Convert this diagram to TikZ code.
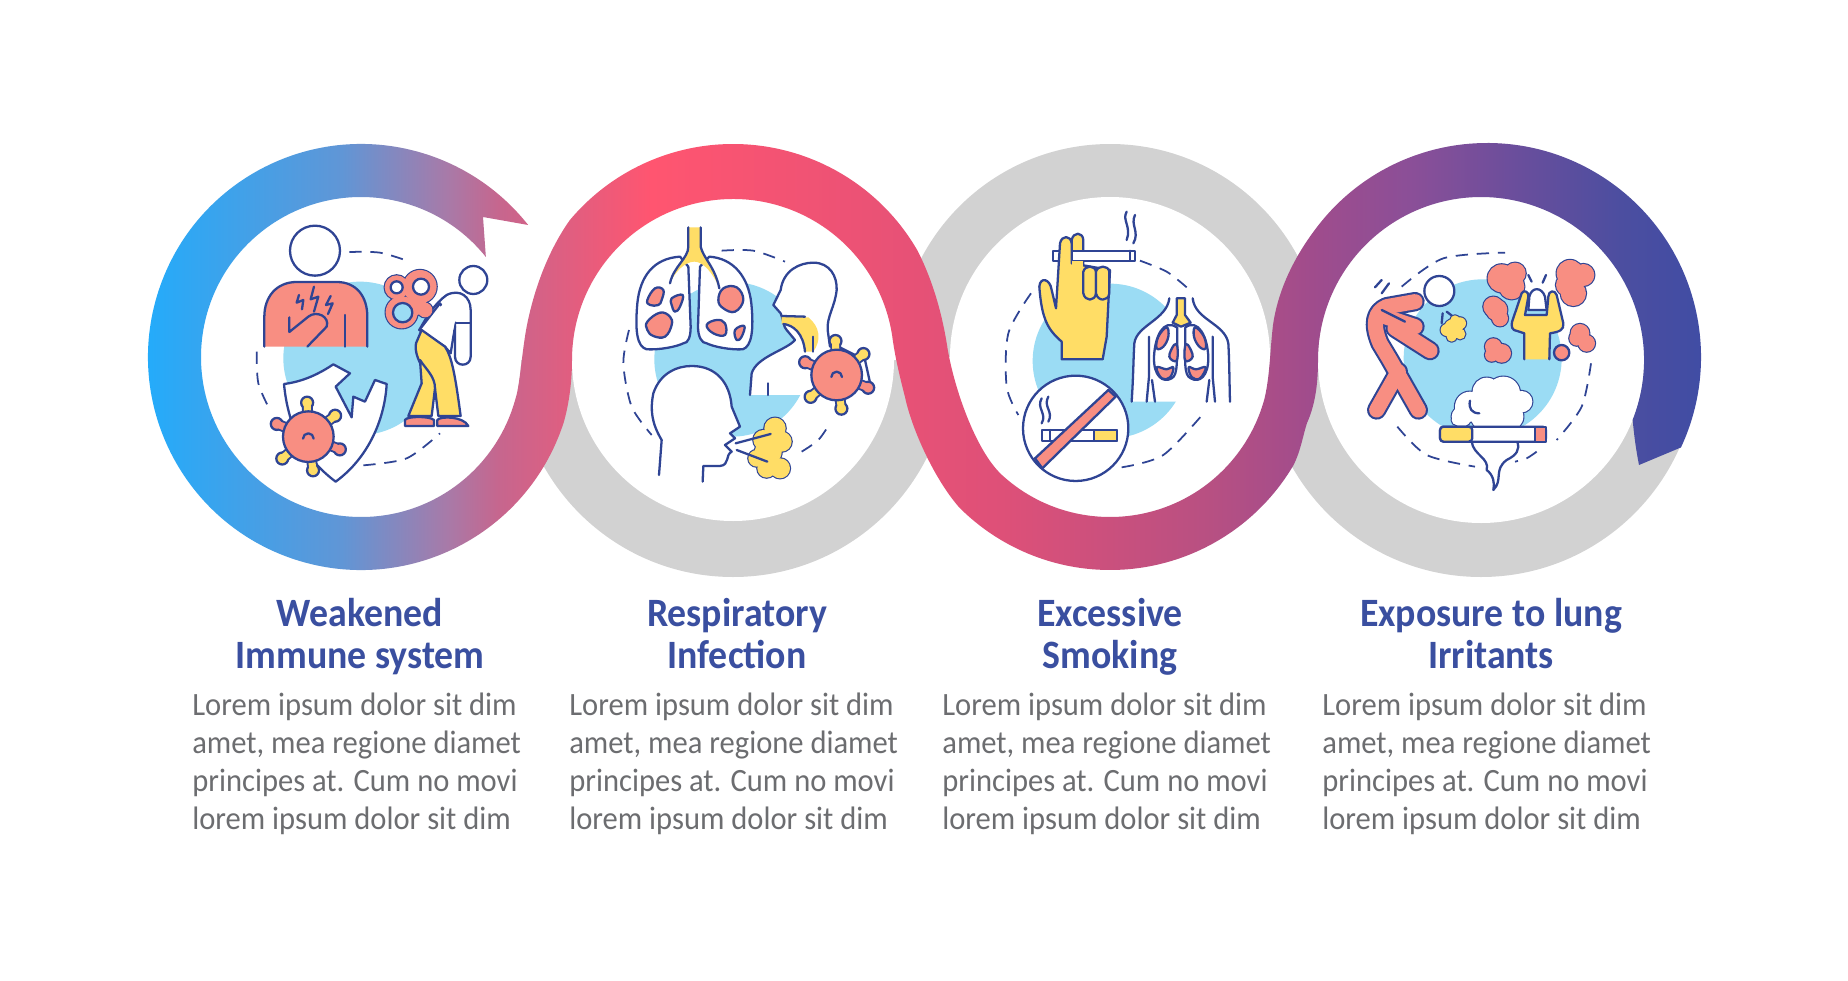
\documentclass[tikz,border=0pt]{standalone}
\usepackage{fontspec}
\setmainfont{Carlito}[FakeStretch=.94]
\usetikzlibrary{calc}
\definecolor{navyline}{HTML}{2F4494}
\definecolor{titleblue}{HTML}{3A4FA0}
\definecolor{bodygrey}{HTML}{6C6D70}
\definecolor{ringgrey}{HTML}{D2D2D2}
\definecolor{salmon}{HTML}{F88E82}
\definecolor{sunny}{HTML}{FFDD66}
\definecolor{skyblue}{HTML}{9BDCF4}
\definecolor{fadea}{RGB}{28,174,255}
\definecolor{fadeb}{RGB}{96,150,214}
\definecolor{fadec}{RGB}{168,122,168}
\definecolor{faded}{RGB}{198,102,142}
\definecolor{fadee}{RGB}{255,85,112}
\definecolor{fadef}{RGB}{236,82,117}
\definecolor{fadeg}{RGB}{222,80,120}
\definecolor{fadeh}{RGB}{184,80,130}
\definecolor{fadei}{RGB}{160,76,140}
\definecolor{fadej}{RGB}{138,79,152}
\definecolor{fadek}{RGB}{106,78,156}
\definecolor{fadel}{RGB}{76,78,160}
\definecolor{fadem}{RGB}{61,76,165}
\pgfdeclarehorizontalshading{ribbonfade}{100bp}{%
  color(0bp)=(fadea);
  color(25bp)=(fadea);
  color(31.85bp)=(fadeb);
  color(35.15bp)=(fadec);
  color(36.75bp)=(faded);
  color(41.5bp)=(fadee);
  color(47.9bp)=(fadef);
  color(52.45bp)=(fadeg);
  color(58.85bp)=(fadeh);
  color(62.1bp)=(fadei);
  color(65.3bp)=(fadej);
  color(68.5bp)=(fadek);
  color(71.75bp)=(fadel);
  color(75bp)=(fadem);
  color(100bp)=(fadem)}
\tikzset{
    icon/.style={x=.0066667cm,y=-.0066667cm},
    ink/.style={draw=navyline,line width=1.3pt,line join=round,line cap=round},
    dashline/.style={draw=navyline,line width=1pt,dash pattern=on 7pt off 5pt},
    titletext/.style={text=titleblue,align=center,font=\fontsize{22.9}{23.8}\selectfont\bfseries},
    bodytext/.style={text=bodygrey,align=left,anchor=west,font=\fontsize{18.5}{21.65}\selectfont},
    limbout/.style={navyline,line width=11pt,line cap=round,line join=round},
    limbin/.style={salmon,line width=8.6pt,line cap=round,line join=round},
    virus/.pic={
      \foreach \a/\c in {-92/sunny,-38/sunny,22/salmon,82/sunny,140/sunny,202/salmon}{
        \draw[navyline,line width=6.2pt] (0,0) -- (\a:98);
        \draw[ink,fill=\c] (\a:102) circle[radius=18];
        \draw[\c,line width=4pt] (\a:60) -- (\a:102);
      }
      \draw[ink,fill=salmon] (0,0) circle[radius=76];
      \draw[ink] (-16,6) arc[start angle=180,end angle=360,radius=16];
    },
}
\newcommand{\puff}[2]{%
  \foreach \a/\b/\r in {#2}{\draw[ink,fill=#1] (\a,\b) circle[radius=\r];}
  \foreach \a/\b/\r in {#2}{\fill[#1] (\a,\b) circle[radius=\r];}}
\newcommand{\spot}[1]{\draw[ink,fill=salmon] plot[smooth cycle,tension=.7] coordinates {#1};}
\begin{document}
\begin{tikzpicture}[x=.02cm,y=-.02cm]
\useasboundingbox (0,0) rectangle (1848,980);
\fill[white] (0,0) rectangle (1848,980);
\coordinate (ringa) at (361,357);
\coordinate (ringb) at (733,357);
\coordinate (ringc) at (1110,357);
\coordinate (ringd) at (1487,357);
\coordinate (discb) at (733,360);
\coordinate (discd) at (1481,360);
%grey rings behind the ribbon
\fill[ringgrey] (516,360) arc[start angle=180,end angle=0,radius=217] -- cycle;
\fill[ringgrey] (897,357) arc[start angle=-180,end angle=0,radius=213] -- cycle;
\fill[ringgrey] (1264,360) arc[start angle=180,end angle=0,radius=217] -- cycle;
\fill[white] (ringa) circle[radius=160];
\fill[white] (discb) circle[radius=161];
\fill[white] (ringc) circle[radius=160];
\fill[white] (discd) circle[radius=163];
%ribbon
\path[shading=ribbonfade,shading angle=0]
  ($(ringa)+(-38.7:160)$) arc[start angle=-38.7,end angle=-345,radius=160]
  .. controls (520,385) and (522,350) .. (527,325)
  .. controls (535,285) and (550,248) .. ($(ringb)+(-140:213)$)
  arc[start angle=-140,end angle=-30,radius=213]
  .. controls (935,285) and (943,320) .. (947,345)
  .. controls (953,385) and (975,450) .. ($(ringc)+(132.5:160)$)
  arc[start angle=132.5,end angle=15,radius=160]
  .. controls (1270,375) and (1270,350) .. (1273,325)
  .. controls (1278,290) and (1294,258) .. ($(ringd)+(-144:214)$)
  arc[start angle=-144,end angle=25,radius=214]
  -- (1639,465)
  .. controls (1636,450) and (1634,435) .. ($(discd)+(21.5:163)$)
  arc[start angle=21.5,end angle=-180,radius=163]
  .. controls (1318,385) and (1315,405) .. (1307,423)
  .. controls (1303,435) and (1301,450) .. ($(ringc)+(30.5:213)$)
  arc[start angle=30.5,end angle=135,radius=213]
  .. controls (935,480) and (912,430) .. (905,397)
  .. controls (898,370) and (895,355) .. ($(discb)+(-7:161)$)
  arc[start angle=-7,end angle=-180,radius=161]
  .. controls (572,385) and (568,408) .. ($(ringa)+(18:213)$)
  arc[start angle=18,end angle=321.7,radius=213]
  -- (483,217) -- cycle;
%first icon
\begin{scope}[shift={(130,130)},icon]
  \fill[skyblue] (690,685) circle[radius=230];
  \draw[dashline] plot[smooth] coordinates {(658,366) (750,368) (840,395)};
  \draw[dashline] plot[smooth] coordinates {(380,665) (385,760) (420,840)};
  \draw[dashline] plot[smooth] coordinates {(700,1006) (830,985) (930,910)};
  \draw[ink,fill=white] (555,362) circle[radius=75];
  \fill[salmon] (403,650) -- (403,560) .. controls (403,500) and (440,456) .. (500,456) -- (620,456)
    .. controls (680,456) and (712,500) .. (712,560) -- (712,650) -- cycle;
  \draw[ink] (403,650) -- (403,560) .. controls (403,500) and (440,456) .. (500,456) -- (620,456)
    .. controls (680,456) and (712,500) .. (712,560) -- (712,650);
  \draw[ink] (478,562) -- (478,606) -- (535,560) .. controls (560,540) and (600,560) .. (590,590) -- (532,650);
  \draw[ink] (645,555) -- (645,650);
  \draw[ink] (507,495) -- (500,518) -- (520,510) -- (516,538);
  \draw[ink] (552,470) -- (542,508) -- (565,500) -- (552,545);
  \draw[ink] (602,498) -- (588,525) -- (608,520) -- (594,552);
  %walking man
  \draw[ink,fill=white] (1030,450) circle[radius=42];
  \draw[ink,fill=white] (868,600) .. controls (890,560) and (915,520) .. (950,495)
    .. controls (990,475) and (1022,500) .. (1022,540) -- (1022,680)
    .. controls (1022,712) and (975,712) .. (975,680) -- (975,545);
  \draw[ink] (975,578) -- (1022,578);
  \draw[ink,fill=white] (975,590) -- (962,670) -- (945,650) -- (868,600) -- (930,520) -- cycle;
  \fill[white] (940,520) -- (1015,520) -- (1015,575) -- (975,575) -- (960,640) -- (890,590) -- cycle;
  \draw[ink,fill=sunny] (875,600) -- (945,650) .. controls (965,680) and (975,730) .. (992,858) -- (925,858)
    -- (915,775) .. controls (900,740) and (850,690) .. (858,640) -- cycle;
  \draw[ink,fill=sunny] (870,690) .. controls (890,720) and (915,740) .. (915,775) -- (905,858) -- (835,858) -- (875,760) -- cycle;
  \draw[ink,fill=salmon] (825,888) -- (825,870) .. controls (830,858) and (900,858) .. (912,870) -- (912,888) -- cycle;
  \draw[ink,fill=salmon] (922,888) -- (922,870) .. controls (930,858) and (1000,858) .. (1015,888) -- cycle;
  %wind-up key
  \puff{salmon}{800/472/36,870/470/50,815/547/48,860/525/30,885/540/22}
  \draw[ink,fill=white] (800,472) circle[radius=18];
  \draw[ink,fill=white] (873,470) circle[radius=24];
  \draw[ink,fill=skyblue] (818,548) circle[radius=29];
  %shield
  \draw[ink,fill=white] (462,762) .. controls (520,755) and (570,730) .. (610,703) -- (660,730) -- (617,770) -- (665,862)
    -- (670,800) -- (705,815) -- (735,750) -- (770,762)
    .. controls (765,860) and (720,980) .. (617,1055) .. controls (530,990) and (475,900) .. (462,762) -- cycle;
  \pic at (535,920) {virus};
\end{scope}
%second icon
\begin{scope}[shift={(560,130)},icon]
  \fill[skyblue] (515,688) circle[radius=232];
  \draw[dashline] plot[smooth] coordinates {(485,362) (580,362) (675,395)};
  \draw[dashline] plot[smooth] coordinates {(207,600) (190,700) (215,830) (275,915)};
  \draw[dashline] plot[smooth] coordinates {(725,965) (775,930) (810,880)};
  %lungs
  \draw[ink,fill=white] (360,380) .. controls (280,385) and (240,440) .. (232,520) .. controls (225,600) and (230,650) .. (260,658)
    .. controls (300,660) and (350,650) .. (370,640) .. controls (385,640) and (392,620) .. (392,590) -- (385,410) -- cycle;
  \draw[ink,fill=white] (448,380) .. controls (520,385) and (565,440) .. (574,520) .. controls (582,600) and (575,650) .. (548,658)
    .. controls (510,660) and (460,650) .. (440,640) .. controls (425,640) and (414,620) .. (414,590) -- (420,410) -- cycle;
  \fill[sunny] (385,292) -- (422,292) -- (422,350) .. controls (430,385) and (465,410) .. (478,475) .. controls (460,430) and (430,395) .. (403,395)
    .. controls (375,395) and (345,425) .. (330,460) .. controls (340,410) and (385,385) .. (385,350) -- cycle;
  \draw[ink] (385,292) -- (385,350) .. controls (385,385) and (340,410) .. (330,460);
  \draw[ink] (422,292) -- (422,350) .. controls (430,385) and (465,410) .. (478,475);
  \spot{(262,510) (285,475) (310,480) (305,510) (295,525) (270,525)}
  \spot{(335,505) (368,495) (360,530) (345,545) (335,525)}
  \spot{(262,575) (300,548) (330,560) (335,585) (315,620) (280,618) (262,600)}
  \spot{(475,510) (490,475) (530,472) (550,510) (525,545) (490,535)}
  \spot{(440,585) (470,570) (495,580) (495,615) (460,610)}
  \spot{(525,600) (553,588) (545,620) (530,630)}
  %side head
  \fill[white] (570,795) -- (575,730) .. controls (590,680) and (680,660) .. (705,630) -- (680,600) -- (662,550) -- (640,525)
    -- (662,480) .. controls (670,420) and (720,398) .. (760,398) .. controls (810,398) and (832,440) .. (830,480)
    .. controls (825,530) and (800,560) .. (803,600) -- (810,680) -- (750,795) -- cycle;
  \draw[ink] (570,795) -- (575,730) .. controls (590,680) and (680,660) .. (705,630) -- (680,600) .. controls (670,590) and (672,575) .. (662,550) -- (640,525)
    -- (662,480) .. controls (670,420) and (720,398) .. (760,398) .. controls (810,398) and (832,440) .. (830,480)
    .. controls (825,530) and (800,560) .. (803,600) -- (810,650);
  \draw[ink] (625,760) -- (625,795);
  \fill[sunny] (665,560) -- (745,562) .. controls (780,590) and (785,630) .. (760,665) -- (735,665) .. controls (735,630) and (725,590) .. (665,582) -- cycle;
  \draw[ink] (665,558) -- (735,560);
  \draw[ink] (670,582) .. controls (700,585) and (730,610) .. (735,665);
  \draw[ink] (760,620) -- (760,665);
  \draw[ink] (825,645) -- (915,690) -- (935,780);
  \pic at (830,735) {virus};
  %lower head and breath
  \draw[ink,fill=white] (297,1035) -- (305,930) .. controls (275,880) and (270,840) .. (280,790)
    .. controls (300,730) and (350,708) .. (395,708) .. controls (470,708) and (510,760) .. (515,830)
    -- (540,890) -- (510,910) -- (525,925) -- (495,945) -- (515,965) .. controls (495,975) and (510,1005) .. (480,1008) -- (430,1008) -- (428,1055);
  \puff{sunny}{645/895/32,665/935/30,610/930/30,590/985/25,620/1015/28,660/1015/30,625/965/40}
  \draw[ink] (527,940) -- (632,912);
  \draw[ink] (530,960) -- (622,995);
\end{scope}
%third icon
\begin{scope}[shift={(950,130)},icon]
  \fill[skyblue] (480,693) circle[radius=232];
  \draw[dashline] plot[smooth] coordinates {(243,490) (175,610) (170,770) (205,855)};
  \draw[dashline] plot[smooth] coordinates {(570,392) (650,425) (710,472)};
  \draw[dashline] plot[smooth] coordinates {(515,1012) (640,975) (765,845)};
  %torso and lungs
  \fill[white] (545,815) -- (553,640) .. controls (560,585) and (650,570) .. (658,505) -- (728,505)
    .. controls (735,565) and (825,580) .. (835,640) -- (840,815) -- cycle;
  \draw[ink] (545,815) .. controls (550,740) and (550,690) .. (553,640) .. controls (560,585) and (650,570) .. (658,505);
  \draw[ink] (840,815) .. controls (838,740) and (838,690) .. (835,640) .. controls (825,580) and (735,570) .. (728,505);
  \draw[ink] (597,620) -- (597,740) -- (590,815);
  \draw[ink] (606,750) -- (615,815);
  \draw[ink] (788,620) -- (788,740) -- (795,815);
  \draw[ink] (778,750) -- (770,815);
  \draw[ink,fill=white] (680,592) .. controls (640,565) and (615,620) .. (612,680) .. controls (610,740) and (640,760) .. (665,745) .. controls (685,735) and (680,690) .. (682,592);
  \draw[ink,fill=white] (706,592) .. controls (745,565) and (772,620) .. (775,680) .. controls (776,740) and (748,760) .. (722,745) .. controls (700,735) and (706,690) .. (706,592);
  \spot{(650,592) (625,620) (620,655) (640,650) (655,620)}
  \spot{(672,645) (658,680) (680,692) (682,650)}
  \spot{(620,712) (650,718) (670,712) (660,742) (635,745)}
  \spot{(736,592) (762,620) (767,655) (748,650) (732,620)}
  \spot{(714,645) (728,680) (706,692) (705,650)}
  \spot{(767,712) (738,718) (716,712) (726,742) (750,745)}
  \draw[ink,fill=sunny] (680,505) -- (705,505) -- (705,555) -- (722,578) -- (693,590) -- (668,578) -- (680,555) -- cycle;
  %hand and cigarette
  \draw[ink,fill=sunny] (365,480) -- (365,330) .. controls (370,305) and (398,305) .. (400,330) -- (400,480) -- cycle;
  \draw[ink,fill=white] (308,362) rectangle (555,392);
  \draw[ink] (540,362) -- (540,392);
  \draw[ink,fill=sunny] (335,688) -- (335,635) .. controls (295,600) and (275,570) .. (268,470) .. controls (270,440) and (300,445) .. (305,480)
    -- (318,535) -- (330,340) .. controls (335,315) and (362,315) .. (365,340) -- (365,400) -- (480,420) -- (470,620) -- (458,688) -- cycle;
  \fill[sunny] (366,393) -- (400,393) -- (400,480) -- (366,480) -- cycle;
  \draw[ink,fill=sunny] (400,425) .. controls (405,405) and (435,405) .. (438,425) -- (438,490) .. controls (435,515) and (405,515) .. (400,490) -- cycle;
  \draw[ink,fill=sunny] (438,425) .. controls (443,405) and (475,405) .. (478,425) -- (478,490) .. controls (475,515) and (443,515) .. (438,490) -- cycle;
  \draw[ink] (530,245) .. controls (515,270) and (545,290) .. (530,330);
  \draw[ink] (555,255) .. controls (540,285) and (570,305) .. (550,340);
  %no smoking sign
  \draw[ink,fill=white] (377,895) circle[radius=158];
  \draw[ink,fill=white] (275,900) rectangle (500,932);
  \draw[ink] (300,900) -- (300,932);
  \draw[ink,fill=sunny] (432,900) rectangle (500,932);
  \draw[ink] (275,805) .. controls (258,835) and (292,850) .. (275,880);
  \draw[ink] (295,800) .. controls (278,830) and (312,845) .. (295,875);
  \draw[ink,fill=salmon] (255,985) -- (475,780) -- (497,800) -- (277,1015) -- cycle;
\end{scope}
%fourth icon
\begin{scope}[shift={(1290,130)},icon]
  \fill[skyblue] (578,685) circle[radius=237];
  \draw[dashline] plot[smooth] coordinates {(335,470) (460,385) (645,368)};
  \draw[ink] (255,472) -- (275,450);
  \draw[ink] (275,490) -- (297,460);
  \draw[dashline] plot[smooth] coordinates {(903,700) (875,830) (800,930)};
  \draw[dashline] plot[smooth] coordinates {(740,965) (710,985) (675,995)};
  \draw[dashline] plot[smooth] coordinates {(322,890) (410,975) (555,1010)};
  %bent person
  \draw[limbout] (385,840) -- (300,690) -- (270,640) .. controls (245,580) and (255,545) .. (290,530) -- (375,515);
  \draw[limbout] (260,840) -- (325,725);
  \draw[limbout] (270,555) -- (375,590);
  \draw[limbout] (315,595) -- (420,662);
  \draw[limbin] (385,840) -- (300,690) -- (270,640) .. controls (245,580) and (255,545) .. (290,530) -- (375,515);
  \draw[limbin] (260,840) -- (325,725);
  \draw[limbin] (270,555) -- (375,590);
  \draw[limbin] (315,595) -- (420,662);
  \draw[ink] (275,540) -- (345,575);
  \draw[ink,fill=white] (448,483) circle[radius=45];
  \draw[ink] (458,550) -- (455,580);
  \draw[ink] (470,545) -- (492,562);
  \puff{sunny}{490/595/28,470/600/18,510/580/18,510/612/16,485/620/15,495/570/14}
  %raised arms person
  \puff{salmon}{635/445/42,675/430/32,665/470/38,610/530/30,630/565/24,620/540/32,610/650/25,635/670/28,605/675/20,840/430/40,880/435/33,850/490/38,830/465/32,870/610/28,890/640/25,860/625/22}
  \draw[ink,fill=salmon] (815,668) circle[radius=23];
  \draw[ink,fill=sunny] (703,688) -- (703,610) -- (672,600) .. controls (662,595) and (665,575) .. (668,570) -- (695,490) .. controls (700,478) and (718,485) .. (715,500)
    -- (705,555) -- (770,555) -- (775,500) .. controls (775,482) and (795,478) .. (800,495) -- (820,580) .. controls (822,600) and (810,605) .. (780,610) -- (778,688);
  \draw[ink,fill=white] (715,540) -- (718,500) .. controls (725,470) and (755,470) .. (765,500) -- (770,540) -- cycle;
  \draw[ink] (715,435) -- (725,455);
  \draw[ink] (768,435) -- (758,458);
  %burning cigarette
  \draw[ink,fill=white] (545,935) .. controls (550,975) and (600,985) .. (590,1020) .. controls (610,1035) and (615,1060) .. (610,1080)
    .. controls (640,1050) and (610,1020) .. (650,990) .. controls (680,975) and (690,960) .. (682,935);
  \puff{white}{540/830/45,590/785/42,640/790/50,695/815/32,515/860/30,600/850/60,660/860/40,500/870/15}
  \draw[ink] (540,812) .. controls (535,835) and (545,850) .. (568,850);
  \draw[ink,fill=white,rounded corners=2pt] (450,890) rectangle (768,935);
  \draw[ink,fill=sunny,rounded corners=2pt] (450,890) rectangle (547,935);
  \draw[ink,fill=salmon] (735,890) rectangle (768,935);
\end{scope}
%labels
\node[titletext] (weakened) at (360,640) {Weakened\\Immune system\strut};
\node[titletext] (respiratory) at (737,640) {Respiratory\\Infection\strut};
\node[titletext] (smoking) at (1110,640) {Excessive\\Smoking\strut};
\node[titletext] (exposure) at (1491,640) {Exposure to lung\\Irritants\strut};
\node[bodytext,inner sep=0pt] (bodya) at (192,764) {Lorem ipsum dolor sit dim\\amet, mea regione diamet\\principes at. Cum no movi\\lorem ipsum dolor sit dim};
\node[bodytext,inner sep=0pt] (bodyb) at (569,764) {Lorem ipsum dolor sit dim\\amet, mea regione diamet\\principes at. Cum no movi\\lorem ipsum dolor sit dim};
\node[bodytext,inner sep=0pt] (bodyc) at (942,764) {Lorem ipsum dolor sit dim\\amet, mea regione diamet\\principes at. Cum no movi\\lorem ipsum dolor sit dim};
\node[bodytext,inner sep=0pt] (bodyd) at (1322,764) {Lorem ipsum dolor sit dim\\amet, mea regione diamet\\principes at. Cum no movi\\lorem ipsum dolor sit dim};
\end{tikzpicture}
\end{document}
